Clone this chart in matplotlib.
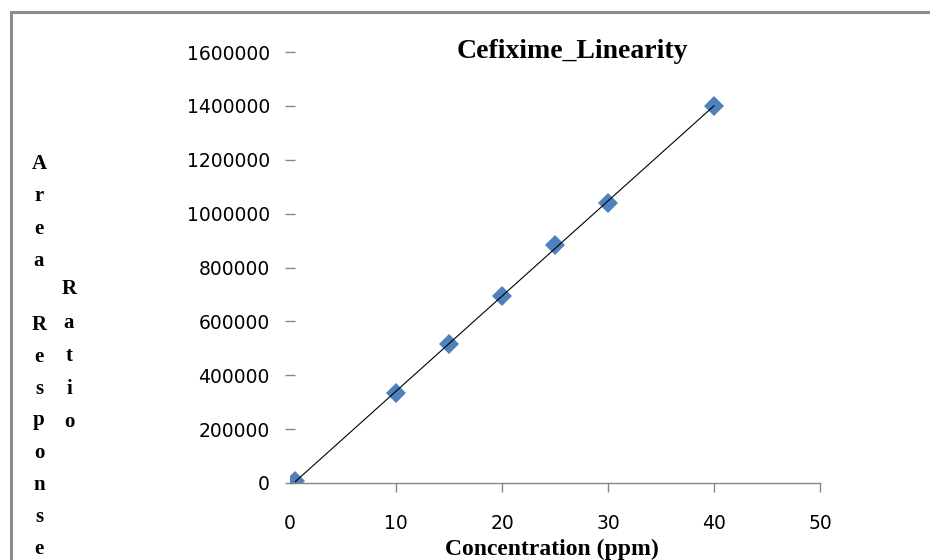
import numpy as np
import matplotlib
matplotlib.use("Agg")
import matplotlib.pyplot as plt
from matplotlib.lines import Line2D

# Calibration data: concentration (ppm) vs. area response ratio
concentration = [0.5, 10, 15, 20, 25, 30, 40]
area_ratio = [7500, 335000, 516000, 694000, 882000, 1040000, 1400000]

x_ticks = [0, 10, 20, 30, 40, 50]
y_ticks = [0, 200000, 400000, 600000, 800000, 1000000, 1200000, 1400000, 1600000]

title_text = "Cefixime_Linearity"
x_label = "Concentration (ppm)"
y_label_1 = "Area Response"
y_label_2 = "Ratio"

W, H = 930, 560
fig = plt.figure(figsize=(W / 100, H / 100), dpi=100)
fig.patch.set_facecolor("white")

ax = fig.add_axes([290 / W, 1 - 483 / H, 530 / W, 431 / H])
ax.set_xlim(0, 50)
ax.set_ylim(0, 1600000)

# linear trendline across the measured range
slope, intercept = np.polyfit(concentration, area_ratio, 1)
xs = np.array([min(concentration), max(concentration)])
ax.plot(xs, slope * xs + intercept, color="black", lw=0.8, zorder=3)

ax.plot(concentration, area_ratio, linestyle="none", marker="D",
        markersize=10, color="#4F81BD", markeredgewidth=0, zorder=2)

for side in ("top", "right", "left"):
    ax.spines[side].set_visible(False)
ax.spines["bottom"].set_color("#868686")
ax.spines["bottom"].set_linewidth(1.0)

tick_font = dict(family="DejaVu Sans", size=13.5)
ax.set_xticks(x_ticks)
ax.set_xticklabels([str(v) for v in x_ticks], **tick_font)
ax.set_yticks(y_ticks)
ax.set_yticklabels([str(v) for v in y_ticks], **tick_font)
ax.tick_params(axis="x", direction="out", length=6.5, width=1.0,
               color="#868686", pad=16)
ax.tick_params(axis="y", direction="inout", length=7, width=1.0,
               color="#868686", pad=11)
ax.xaxis.get_major_ticks()[0].tick1line.set_visible(False)

serif_bold = dict(family="Liberation Serif", weight="bold")

fig.text(572 / W, 1 - 51 / H, title_text, ha="center", va="center",
         fontsize=20, **serif_bold)
fig.text(552 / W, 1 - 549 / H, x_label, ha="center", va="center",
         fontsize=17, **serif_bold)

# vertical stacked axis titles, one character per row
for i, ch in enumerate(y_label_1):
    if ch != " ":
        fig.text(39 / W, 1 - (169.5 + 32 * i) / H, ch, ha="center",
                 va="baseline", fontsize=15, **serif_bold)
for i, ch in enumerate(y_label_2):
    fig.text(69 / W, 1 - (294.5 + 33.2 * i) / H, ch, ha="center",
             va="baseline", fontsize=15, **serif_bold)

# chart frame (left and top edges)
frame_kw = dict(color="#8C8C8C", lw=2.2, transform=fig.transFigure,
                solid_capstyle="projecting")
fig.add_artist(Line2D([10.5 / W, 10.5 / W], [0, 1 - 11.5 / H], **frame_kw))
fig.add_artist(Line2D([10.5 / W, 1], [1 - 11.5 / H, 1 - 11.5 / H], **frame_kw))

fig.savefig("out.png", dpi=100, facecolor="white")
